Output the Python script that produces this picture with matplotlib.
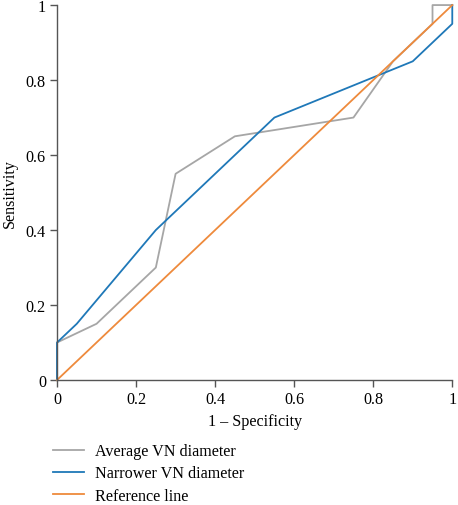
import matplotlib
matplotlib.use("Agg")
import matplotlib.pyplot as plt

# ROC curves
avg_fpr = [0, 0, 0.1, 0.25, 0.3, 0.45, 0.75, 0.85, 0.95, 0.95, 1.0]
avg_tpr = [0, 0.1, 0.15, 0.3, 0.55, 0.65, 0.7, 0.85, 0.95, 1.0, 1.0]
nar_fpr = [0, 0, 0.05, 0.25, 0.55, 0.9, 1.0, 1.0]
nar_tpr = [0, 0.1, 0.15, 0.4, 0.7, 0.85, 0.95, 1.0]
ref_x = [0, 1]
ref_y = [0, 1]
ticks = [0, 0.2, 0.4, 0.6, 0.8, 1]
tick_labels = ["0", "0.2", "0.4", "0.6", "0.8", "1"]

plt.rcParams["font.family"] = ["Liberation Serif", "DejaVu Serif"]

fig = plt.figure(figsize=(4.58, 5.06), dpi=100)
ax = fig.add_axes([0.1245, 0.247, 0.863, 0.741])

l1, = ax.plot(avg_fpr, avg_tpr, color="#a6a6a6", lw=1.3, clip_on=False, label="Average VN diameter")
l2, = ax.plot(nar_fpr, nar_tpr, color="#1f78b8", lw=1.3, clip_on=False, label="Narrower VN diameter")
l3, = ax.plot(ref_x, ref_y, color="#ee8a3c", lw=1.3, clip_on=False, label="Reference line")

ax.set_xlim(0, 1)
ax.set_ylim(0, 1)
ax.set_xticks(ticks)
ax.set_xticklabels(tick_labels)
ax.set_yticks(ticks)
ax.set_yticklabels(tick_labels)
for s in ["top", "right"]:
    ax.spines[s].set_visible(False)
for s in ["left", "bottom"]:
    ax.spines[s].set_color("#555555")
    ax.spines[s].set_linewidth(1.0)
ax.tick_params(colors="#555555", labelcolor="black", labelsize=11.6, length=5, width=1.0, pad=3)
ax.set_xlabel("1 \u2013 Specificity", fontsize=11.6, labelpad=4)
ax.set_ylabel("Sensitivity", fontsize=11.6, labelpad=6)

fig.legend(handles=[l1, l2, l3], loc="upper left", bbox_to_anchor=(0.116, 0.122),
           frameon=False, fontsize=11.6, handlelength=1.9, handletextpad=0.7,
           labelspacing=0.38, borderaxespad=0, borderpad=0)

fig.savefig("out.png", dpi=100)
